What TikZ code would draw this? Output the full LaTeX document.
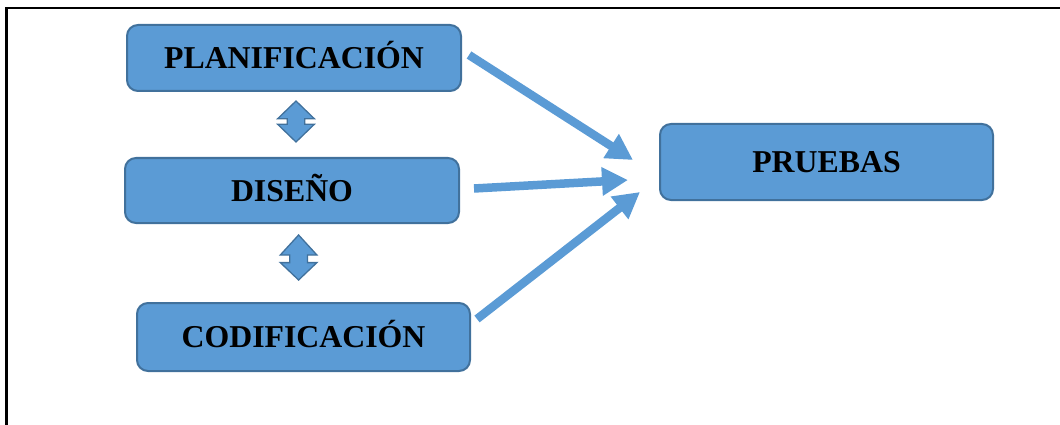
\documentclass[tikz,border=0pt]{standalone}
\usepackage{fontspec}
\setmainfont{Liberation Serif}
\usetikzlibrary{arrows.meta,calc}
\definecolor{boxfill}{HTML}{5B9BD5}
\definecolor{boxline}{HTML}{41719C}
\tikzset{
  procbox/.style={draw=boxline, line width=2pt, fill=boxfill, rounded corners=11pt,
    inner sep=0pt, text height=21pt, text depth=0pt,
    font=\fontsize{31.8}{38}\selectfont\bfseries},
  flowarrow/.style={draw=boxfill, line width=8.5pt,
    -{Triangle[length=26pt, width=27pt]}},
  dblarrow/.style={draw=boxline, line width=1.3pt, fill=boxfill, line join=miter},
  frameline/.style={draw=black, line width=2.6pt}
}
\begin{document}
\begin{tikzpicture}[x=1pt, y=-1pt]
\useasboundingbox (0,0) rectangle (1060,425);
% frame (top and left)
\coordinate (fl) at (6.5,430);
\coordinate (ftl) at (6.5,8);
\coordinate (ftr) at (1065,8);
\draw[frameline] (fl) -- (ftl) -- (ftr);
% boxes
\node[procbox, minimum width=334pt, minimum height=66pt] (plan) at (294,58) {PLANIFICACIÓN};
\node[procbox, minimum width=334pt, minimum height=65pt] (dis) at (292,190.5) {DISEÑO};
\node[procbox, minimum width=333pt, minimum height=68pt] (cod) at (303.5,337) {CODIFICACIÓN};
\node[procbox, minimum width=333pt, minimum height=76pt] (pru) at (826.5,162) {PRUEBAS};
% arrow endpoints
\coordinate (s1) at ($(plan.east)+(7,-3)$);
\coordinate (e1) at (633,160);
\coordinate (s2) at (474,188.5);
\coordinate (e2) at (628,180);
\coordinate (s3) at (477,319);
\coordinate (e3) at (640,192);
\draw[flowarrow] (s1) -- (e1);
\draw[flowarrow] (s2) -- (e2);
\draw[flowarrow] (s3) -- (e3);
% up-down arrows: center x / center y / top tip / bottom tip / shaft half-height
\foreach \cx/\cy/\tt/\bt/\sh in {296/121.5/20.5/20.5/2.8, 298.6/258.8/23.8/21.2/3.8}{
  \draw[dblarrow] (\cx,\cy-\tt) -- (\cx+18.3,\cy-\sh) -- (\cx+8.8,\cy-\sh) -- (\cx+8.8,\cy+\sh)
    -- (\cx+18.3,\cy+\sh) -- (\cx,\cy+\bt) -- (\cx-18.3,\cy+\sh) -- (\cx-8.8,\cy+\sh)
    -- (\cx-8.8,\cy-\sh) -- (\cx-18.3,\cy-\sh) -- cycle;
}
\end{tikzpicture}
\end{document}
